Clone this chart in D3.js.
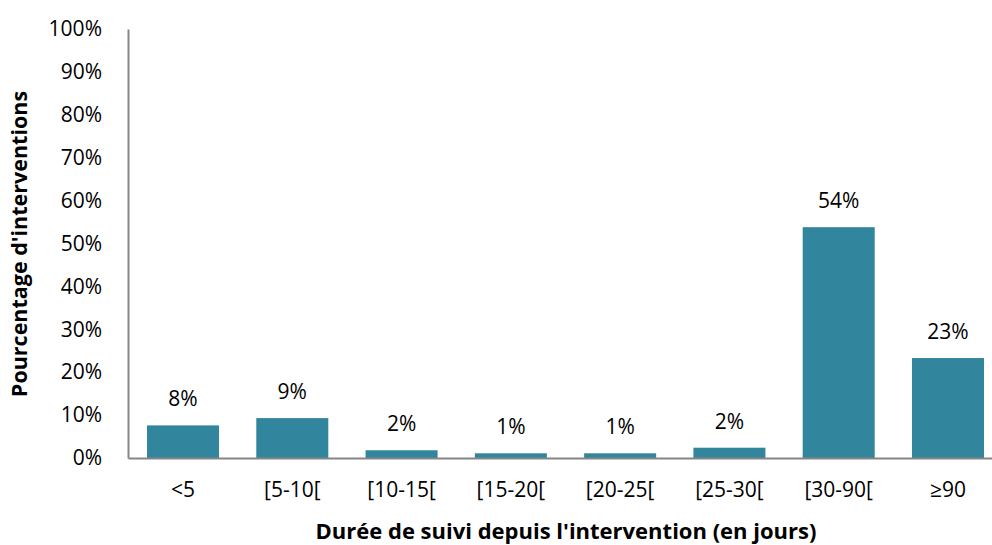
<!DOCTYPE html>
<html>
<head>
<meta charset="utf-8">
<script src="https://cdn.jsdelivr.net/npm/d3@7"></script>
<style>
  body { margin: 0; background: #fff; }
  text { font-family: "Open Sans", sans-serif; fill: #000; }
</style>
</head>
<body>
<svg id="chart" width="992" height="545"></svg>
<script>
// data
var categories = ["<5", "[5-10[", "[10-15[", "[15-20[", "[20-25[", "[25-30[", "[30-90[", "\u226590"];
var values = [7.6, 9.3, 1.8, 1.1, 1.1, 2.4, 53.8, 23.3];
var yTicks = [0, 10, 20, 30, 40, 50, 60, 70, 80, 90, 100];
var xTitle = "Durée de suivi depuis l'intervention (en jours)";
var yTitle = "Pourcentage d'interventions";

function drawChart(){
  var margin = ({top: 29, right: -11, bottom: 87, left: 128});
  var width = 992, height = 545;
  var svg = d3.select("#chart");

  var x = d3.scaleBand()
    .domain(categories)
    .range([margin.left, width - margin.right])
    .paddingInner(0.341)
    .paddingOuter(0.174);

  var y = d3.scaleLinear()
    .domain([0, 100])
    .range([height - margin.bottom, margin.top]);

  var data = categories.map((c, i) => ({cat: c, value: values[i]}));

  // bars
  svg.append("g")
    .selectAll("rect")
    .data(data)
    .join("rect")
      .attr("x", d => x(d.cat))
      .attr("y", d => y(d.value))
      .attr("width", x.bandwidth())
      .attr("height", d => y(0) - y(d.value))
      .attr("fill", "#31859c");

  // value labels
  svg.append("g")
    .selectAll("text")
    .data(data)
    .join("text")
      .attr("x", d => x(d.cat) + x.bandwidth() / 2)
      .attr("y", d => y(d.value) - 19)
      .attr("text-anchor", "middle")
      .attr("font-size", 21)
      .text(d => Math.round(d.value) + "%");

  // y axis
  var yAxis = g => g
    .attr("transform", `translate(${margin.left},0)`)
    .call(d3.axisLeft(y).tickValues(yTicks).tickSize(0).tickPadding(26).tickFormat(d => d + "%"))
    .call(g => g.select(".domain").attr("stroke", "#868686").attr("stroke-width", 2))
    .call(g => g.selectAll(".tick text")
        .attr("font-size", 21)
        .attr("font-family", "Open Sans, sans-serif")
        .attr("fill", "#000"));
  svg.append("g").call(yAxis);

  // x axis
  var xAxis = g => g
    .attr("transform", `translate(0,${y(0)})`)
    .call(d3.axisBottom(x).tickSize(0).tickPadding(24).tickSizeOuter(0))
    .call(g => g.select(".domain").attr("stroke", "#868686").attr("stroke-width", 2))
    .call(g => g.selectAll(".tick text")
        .attr("font-size", 21)
        .attr("font-family", "Open Sans, sans-serif")
        .attr("fill", "#000"));
  svg.append("g").call(xAxis);

  // titles
  svg.append("text")
    .attr("x", 566)
    .attr("y", 539)
    .attr("text-anchor", "middle")
    .attr("font-size", 22)
    .attr("font-weight", "bold")
    .text(xTitle);

  svg.append("text")
    .attr("transform", "translate(27,244) rotate(-90)")
    .attr("text-anchor", "middle")
    .attr("font-size", 21.5)
    .attr("font-weight", "bold")
    .text(yTitle);
}

drawChart();
</script>
</body>
</html>
